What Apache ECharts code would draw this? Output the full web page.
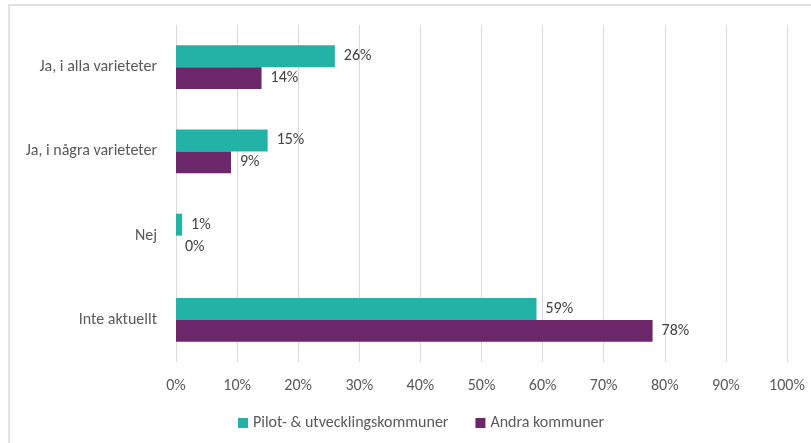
<!DOCTYPE html>
<html>
<head>
<meta charset="utf-8">
<script src="https://cdn.jsdelivr.net/npm/echarts@6/dist/echarts.min.js"></script>
<style>
  html, body { margin: 0; padding: 0; background: #fff; }
  #chart { width: 811px; height: 443px; }
</style>
</head>
<body>
<div id="chart"></div>
<script>
const categories = ['Ja, i alla varieteter', 'Ja, i några varieteter', 'Nej', 'Inte aktuellt'];
const pilotValues = [26, 15, 1, 59];
const andraValues = [14, 9, 0, 78];
const seriesNames = ['Pilot- & utvecklingskommuner', 'Andra kommuner'];

const font = 'Carlito, Lato, "Noto Sans", sans-serif';
const chart = echarts.init(document.getElementById('chart'));

const labelStyle = {
  show: true,
  position: 'right',
  distance: 9,
  formatter: '{c}%',
  color: '#404040',
  fontSize: 16,
  fontFamily: font
};

chart.setOption({
  animation: false,
  graphic: [{
    type: 'rect',
    shape: { x: 9, y: 5, width: 900, height: 500 },
    style: { fill: 'none', stroke: '#d9d9d9', lineWidth: 1.5 },
    silent: true
  }],
  grid: { left: 176, right: 24, top: 25, bottom: 81 },
  legend: {
    top: 410,
    left: 233,
    itemWidth: 10,
    itemHeight: 10,
    itemGap: 27,
    icon: 'rect',
    textStyle: { color: '#595959', fontSize: 16, fontFamily: font },
    data: seriesNames
  },
  xAxis: {
    type: 'value',
    min: 0,
    max: 100,
    interval: 10,
    axisLine: { show: false },
    axisTick: { show: false },
    splitLine: { lineStyle: { color: '#d9d9d9', width: 1 } },
    axisLabel: { formatter: '{value}%', color: '#595959', fontSize: 16, fontFamily: font, margin: 16 }
  },
  yAxis: {
    type: 'category',
    inverse: true,
    data: categories,
    axisLine: { show: false },
    axisTick: { show: false },
    axisLabel: { color: '#595959', fontSize: 16, fontFamily: font, margin: 19 }
  },
  series: [
    {
      name: seriesNames[0],
      type: 'bar',
      data: pilotValues,
      barGap: '0%',
      barCategoryGap: '48%',
      itemStyle: { color: '#22b2a6' },
      label: labelStyle
    },
    {
      name: seriesNames[1],
      type: 'bar',
      data: andraValues,
      barGap: '0%',
      barCategoryGap: '48%',
      itemStyle: { color: '#6b2769' },
      label: labelStyle
    }
  ]
});
</script>
</body>
</html>
